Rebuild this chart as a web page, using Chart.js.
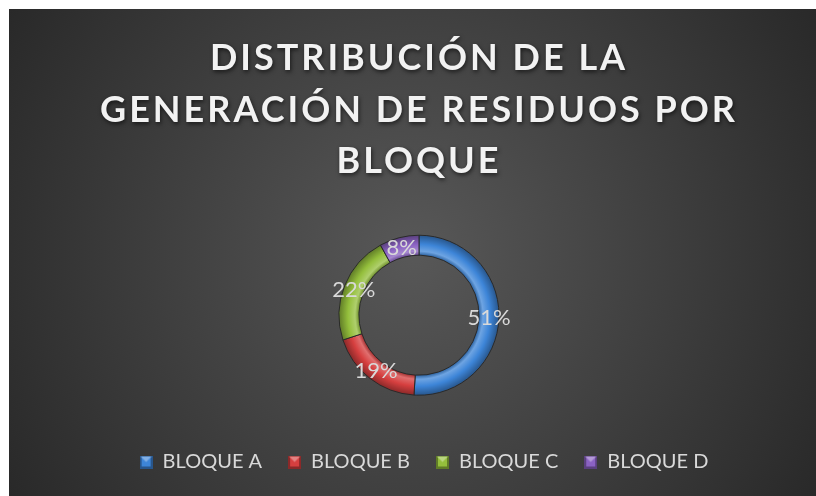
<!DOCTYPE html>
<html>
<head>
<meta charset="utf-8">
<script src="https://cdn.jsdelivr.net/npm/chart.js@4.4.1/dist/chart.umd.min.js"></script>
<style>
  html, body { margin: 0; padding: 0; background: #fff; }
  #wrap { position: absolute; left: 9px; top: 9px; width: 807px; height: 487px; }
</style>
</head>
<body>
<div id="wrap"><canvas id="residuosChart"></canvas></div>
<script>
const titleLines = ['DISTRIBUCIÓN DE LA', 'GENERACIÓN DE RESIDUOS POR', 'BLOQUE'];
const bloques = ['BLOQUE A', 'BLOQUE B', 'BLOQUE C', 'BLOQUE D'];
const porcentajes = [51, 19, 22, 8];
const colores = ['#3d85d8', '#d63f3f', '#94bf3c', '#8a62c2'];

function shade(hex, f) {
    const n = parseInt(hex.slice(1), 16);
    let r = n >> 16, g = (n >> 8) & 255, b = n & 255;
    const t = f < 0 ? 0 : 255, p = Math.abs(f);
    r = Math.round(r + (t - r) * p);
    g = Math.round(g + (t - g) * p);
    b = Math.round(b + (t - b) * p);
    return `rgb(${r},${g},${b})`;
}

// ring shading, gives the bevelled look
function relleno(context) {
    const chart = context.chart;
    const base = colores[context.dataIndex];
    const area = chart.chartArea;
    if (!area) return base;
    const cx = (area.left + area.right) / 2;
    const cy = (area.top + area.bottom) / 2;
    const g = chart.ctx.createRadialGradient(cx, cy, 60, cx, cy, 80);
    g.addColorStop(0, shade(base, -0.25));
    g.addColorStop(0.2, shade(base, 0.25));
    g.addColorStop(0.55, base);
    g.addColorStop(1, shade(base, -0.35));
    return g;
}

// small bevelled square for the legend
function marcador(base) {
    const c = document.createElement('canvas');
    c.width = 13; c.height = 13;
    const x = c.getContext('2d');
    x.fillStyle = shade(base, -0.35);
    x.fillRect(0, 0, 13, 13);
    x.fillStyle = base;
    x.fillRect(2, 2, 9, 9);
    x.fillStyle = shade(base, 0.35);
    x.beginPath();
    x.moveTo(1, 1); x.lineTo(12, 1); x.lineTo(6.5, 6.5); x.closePath();
    x.fill();
    return c;
}

const fondo = {
    id: 'fondo',
    beforeDraw(chart) {
        const { ctx, width, height } = chart;
        const g = ctx.createRadialGradient(width / 2, height * 0.5, 0, width / 2, height * 0.5, width * 0.62);
        g.addColorStop(0, '#585858');
        g.addColorStop(1, '#262626');
        ctx.save();
        ctx.fillStyle = g;
        ctx.fillRect(0, 0, width, height);
        ctx.restore();
    }
};

const tituloEspaciado = {
    id: 'tituloEspaciado',
    beforeDraw(chart) {
        const t = chart.titleBlock;
        if (!t || t._espaciado) return;
        const draw = t.draw.bind(t);
        t.draw = function () {
            const ctx = chart.ctx;
            ctx.save();
            ctx.letterSpacing = '3px';
            ctx.shadowColor = 'rgba(0,0,0,0.6)';
            ctx.shadowBlur = 4;
            ctx.shadowOffsetX = 1;
            ctx.shadowOffsetY = 2;
            draw();
            ctx.restore();
        };
        t._espaciado = true;
    }
};

// nudge the legend a little to the right, as in the original
const leyendaDesplazada = {
    id: 'leyendaDesplazada',
    afterLayout(chart) {
        if (!chart.legend) return;
        chart.legend.left += 5;
        chart.legend.right += 5;
    }
};

const etiquetas = {
    id: 'etiquetas',
    afterDatasetsDraw(chart) {
        const ctx = chart.ctx;
        const meta = chart.getDatasetMeta(0);
        ctx.save();
        ctx.font = '22px Lato';
        ctx.fillStyle = '#d9d9d9';
        ctx.textAlign = 'center';
        ctx.textBaseline = 'middle';
        meta.data.forEach((arc, i) => {
            const p = arc.tooltipPosition();
            ctx.fillText(porcentajes[i] + '%', p.x, p.y);
        });
        ctx.restore();
    }
};

const marcadores = colores.map(marcador);

const ctx = document.getElementById('residuosChart').getContext('2d');
new Chart(ctx, {
    type: 'doughnut',
    data: {
        labels: bloques,
        datasets: [{
            data: porcentajes,
            backgroundColor: relleno,
            borderColor: '#2a2a2a',
            borderWidth: 1,
            radius: 80,
            cutout: '75%'
        }]
    },
    options: {
        responsive: true,
        maintainAspectRatio: false,
        animation: false,
        layout: { padding: { top: 0, bottom: 14, left: 13 } },
        plugins: {
            title: {
                display: true,
                text: titleLines,
                color: '#f2f2f2',
                font: { family: 'Lato', size: 36, weight: 'bold', lineHeight: 1.43 },
                padding: { top: 24, bottom: 17 }
            },
            legend: {
                position: 'bottom',
                labels: {
                    color: '#d9d9d9',
                    font: { family: 'Lato', size: 20 },
                    usePointStyle: true,
                    boxWidth: 13,
                    boxHeight: 13,
                    padding: 26,
                    generateLabels: () => bloques.map((b, i) => ({
                        text: b,
                        fillStyle: colores[i],
                        strokeStyle: shade(colores[i], -0.35),
                        pointStyle: marcadores[i],
                        lineWidth: 1,
                        fontColor: '#d9d9d9',
                        hidden: false,
                        index: i
                    }))
                }
            },
            tooltip: { enabled: false }
        }
    },
    plugins: [fondo, tituloEspaciado, leyendaDesplazada, etiquetas]
});
</script>
</body>
</html>
